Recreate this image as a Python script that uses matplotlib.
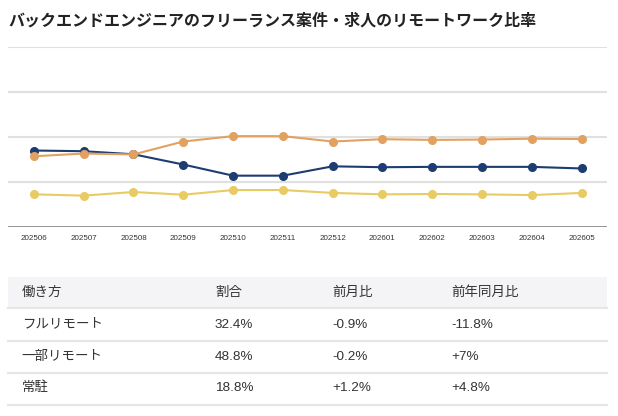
import matplotlib.pyplot as plt
from matplotlib.patches import Rectangle

plt.rcParams['font.family'] = ['Liberation Sans', 'Noto Sans CJK JP', 'DejaVu Sans']

title = 'バックエンドエンジニアのフリーランス案件・求人のリモートワーク比率'

months = ['202506', '202507', '202508', '202509', '202510', '202511',
          '202512', '202601', '202602', '202603', '202604', '202605']

# 割合 (%)
full_remote = [42.4, 42.0, 40.3, 34.6, 28.4, 28.4, 33.6, 33.1, 33.3, 33.3, 33.3, 32.4]
partial_remote = [39.2, 40.7, 40.2, 47.4, 50.4, 50.4, 47.4, 48.7, 48.3, 48.5, 49.0, 48.8]
onsite = [18.0, 17.3, 19.3, 17.8, 20.4, 20.4, 18.8, 18.0, 18.2, 18.0, 17.6, 18.8]

# table
table_header = ['働き方', '割合', '前月比', '前年同月比']
table_rows = [
    ['フルリモート', '32.4%', '-0.9%', '-11.8%'],
    ['一部リモート', '48.8%', '-0.2%', '+7%'],
    ['常駐', '18.8%', '+1.2%', '+4.8%'],
]

W, H = 618, 416
fig = plt.figure(figsize=(W / 100, H / 100), dpi=100)

# --- line chart ---
ax = fig.add_axes([8 / W, 1 - 226.7 / H, (607 - 8) / W, (226.7 - 47) / H])
x = range(len(months))
for yv in [25, 50, 75, 100]:
    ax.axhline(yv, color='#e0e0e0', lw=1.5, zorder=0)
ax.axhline(0, color='#8a8a8a', lw=2.0, zorder=1)

ax.plot(x, onsite, color='#e9cb63', lw=1.5, marker='o', ms=5.5, zorder=3)
ax.plot(x, full_remote, color='#1d3c70', lw=1.5, marker='o', ms=5.5, zorder=3)
ax.plot(x, partial_remote, color='#e2a161', lw=1.5, marker='o', ms=5.5, zorder=4)

ax.set_xlim(-0.52, 11.51)
ax.set_ylim(0, 100)
ax.set_xticks(list(x))
ax.set_xticklabels(months, fontsize=5.8, color='#333333')
ax.tick_params(axis='x', length=0, pad=6)
ax.set_yticks([])
for s in ax.spines.values():
    s.set_visible(False)

# --- title & table (pixel coordinates) ---
tx = fig.add_axes([0, 0, 1, 1], zorder=-1)
tx.set_xlim(0, W)
tx.set_ylim(H, 0)
tx.axis('off')

tx.text(8, 21, title, fontsize=11.5, fontweight='bold', color='#222222',
        ha='left', va='center')

col_x = [21.7, 215, 332, 451]
tx.add_patch(Rectangle((8, 277), 599, 31, facecolor='#f4f4f6', edgecolor='none'))
for yl in [308, 340.5, 372.5, 404.5]:
    tx.plot([8, 607], [yl, yl], color='#e6e6e6', lw=1.5)

for cx, label in zip(col_x, table_header):
    tx.text(cx, 293, label, fontsize=9.7, color='#333333', ha='left', va='center')
row_y = [324.5, 356.5, 388]
for ry, row in zip(row_y, table_rows):
    for cx, cell in zip(col_x, row):
        tx.text(cx, ry, cell, fontsize=9.7, color='#333333', ha='left', va='center')

fig.savefig('out.png', dpi=100)
